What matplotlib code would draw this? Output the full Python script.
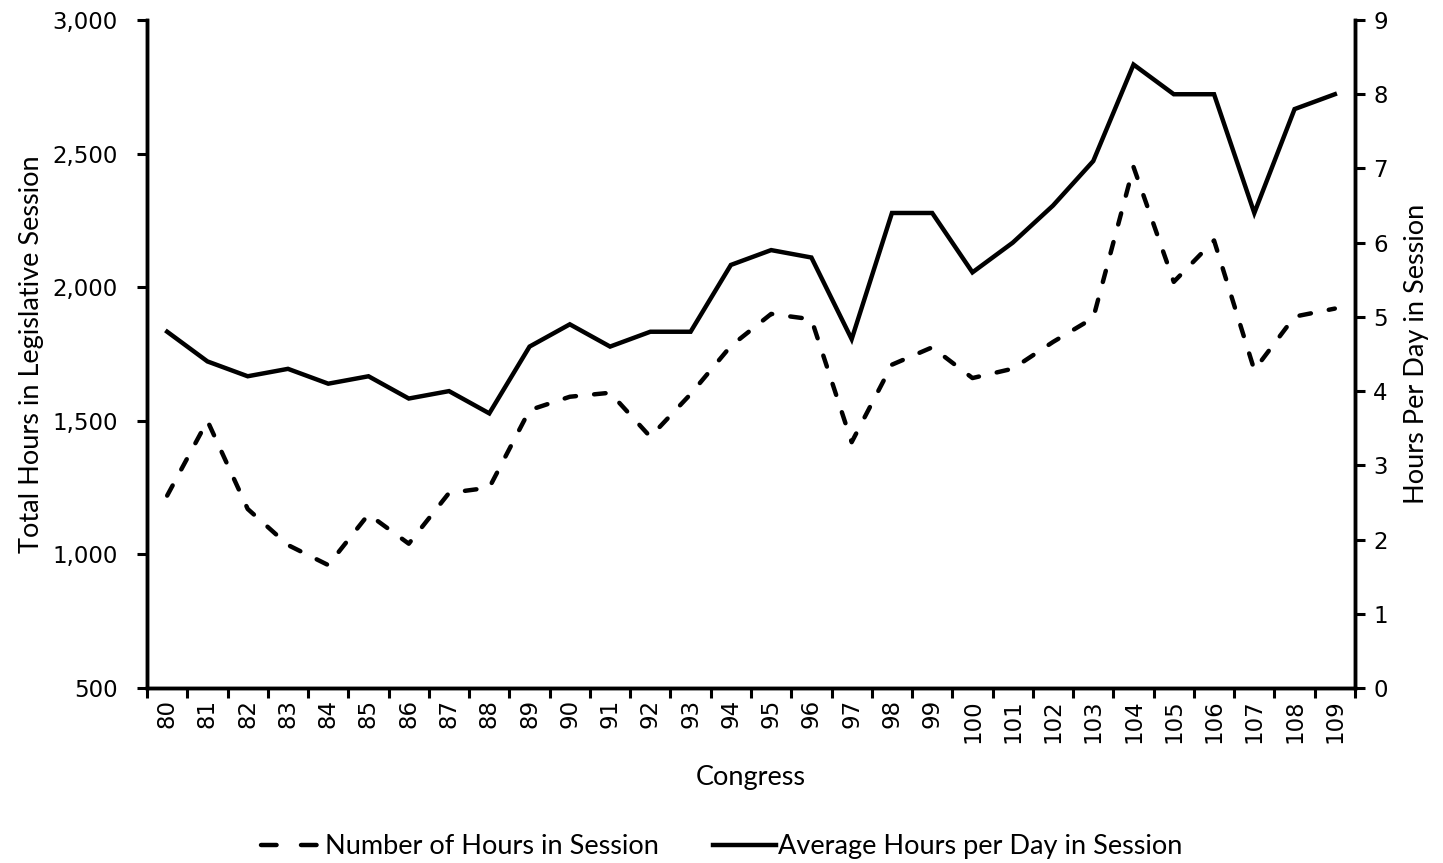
import matplotlib.pyplot as plt
from matplotlib.lines import Line2D
from matplotlib.ticker import FuncFormatter, MultipleLocator

congress = list(range(80, 110))
total_hours = [1220, 1500, 1170, 1035, 960, 1150, 1040, 1230, 1250, 1540,
               1590, 1605, 1440, 1600, 1780, 1900, 1880, 1420, 1710, 1775,
               1660, 1695, 1795, 1885, 2450, 2020, 2175, 1690, 1890, 1920]
hours_per_day = [4.8, 4.4, 4.2, 4.3, 4.1, 4.2, 3.9, 4.0, 3.7, 4.6,
                 4.9, 4.6, 4.8, 4.8, 5.7, 5.9, 5.8, 4.7, 6.4, 6.4,
                 5.6, 6.0, 6.5, 7.1, 8.4, 8.0, 8.0, 6.4, 7.8, 8.0]

label_font = 'Lato'
tick_font = 'DejaVu Sans'

fig = plt.figure(figsize=(14.43, 8.63), dpi=100)
ax = fig.add_axes([0.1019, 0.2028, 0.8371, 0.774])
ax2 = ax.twinx()

x = list(range(len(congress)))
ax.plot(x, total_hours, color='black', lw=3.2, linestyle=(0, (2.6, 4.1)),
        dash_capstyle='round', solid_joinstyle='miter')
ax2.plot(x, hours_per_day, color='black', lw=3.2, solid_joinstyle='miter')

ax.set_xlim(-0.5, len(congress) - 0.5)
ax.set_ylim(500, 3000)
ax2.set_ylim(0, 9)
ax.yaxis.set_major_locator(MultipleLocator(500))
ax2.yaxis.set_major_locator(MultipleLocator(1))
ax.yaxis.set_major_formatter(FuncFormatter(lambda v, p: f'{int(v):,}'))

# category ticks sit between the labels, like excel
ax.set_xticks([i - 0.5 for i in range(len(congress) + 1)])
ax.set_xticklabels([])
ax.set_xticks(x, minor=True)
ax.set_xticklabels([str(c) for c in congress], minor=True, rotation=90,
                   fontsize=16.5, family=tick_font)
ax.tick_params(axis='x', which='minor', length=0, pad=8)
ax.tick_params(axis='x', which='major', length=7, width=2.2, direction='out')
ax.tick_params(axis='y', length=7, width=2.2, direction='out', labelsize=16.5, pad=14)
ax2.tick_params(axis='y', length=7, width=2.2, direction='out', labelsize=16.5, pad=6)
for lab in ax.get_yticklabels() + ax2.get_yticklabels():
    lab.set_family(tick_font)

for a in (ax, ax2):
    a.spines['top'].set_visible(False)
    for s in ('left', 'right', 'bottom'):
        a.spines[s].set_linewidth(2.5)

ax.set_xlabel('Congress', fontsize=19.5, family=label_font, labelpad=16)
ax.set_ylabel('Total Hours in Legislative Session', fontsize=19.5, family=label_font, labelpad=6)
ax2.set_ylabel('Hours Per Day in Session', fontsize=19.5, family=label_font, labelpad=12)

# legend proxies: two dashes in the sample like the original
h1 = Line2D([], [], color='black', lw=3.2, linestyle=(0, (3.5, 5.5)), dash_capstyle='round')
h2 = Line2D([], [], color='black', lw=3.2)
fig.legend([h1, h2], ['Number of Hours in Session', 'Average Hours per Day in Session'],
           loc='center', bbox_to_anchor=(0.5, 0.019), ncol=2, frameon=False,
           prop={'family': label_font, 'size': 19.5}, handlelength=2.3,
           handletextpad=0.08, columnspacing=2.0)

fig.savefig('out.png', dpi=100)
